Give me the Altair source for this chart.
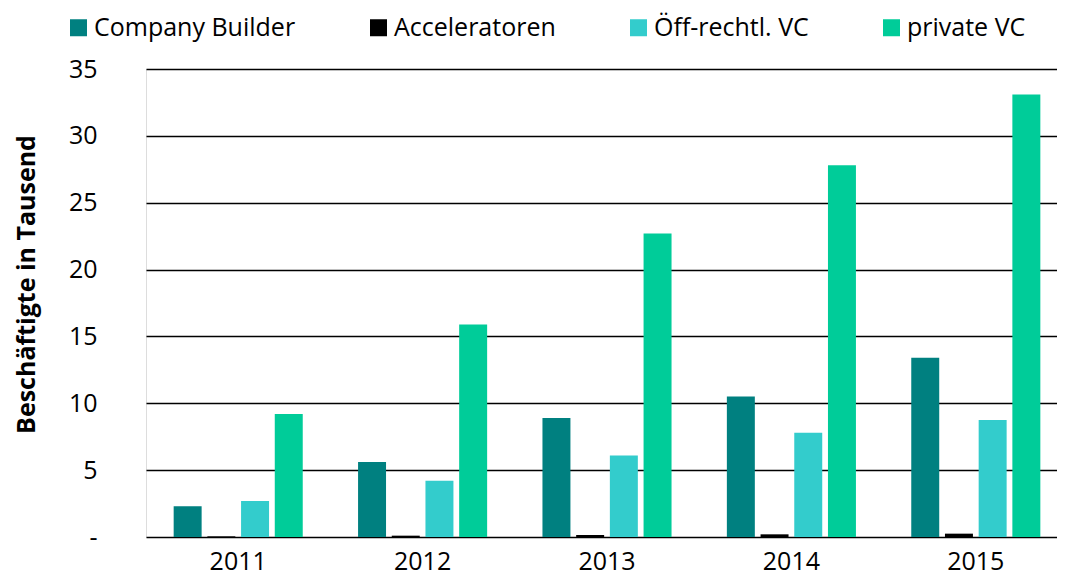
import altair as alt
import pandas as pd

years = ["2011", "2012", "2013", "2014", "2015"]
series = ["Company Builder", "Acceleratoren", "Öff-rechtl. VC", "private VC"]
colors = ["#008080", "#000000", "#33CCCC", "#00CC99"]
company_builder = [2.3, 5.6, 8.9, 10.5, 13.4]
acceleratoren = [0.05, 0.1, 0.15, 0.2, 0.25]
oeff_vc = [2.7, 4.2, 6.1, 7.8, 8.75]
private_vc = [9.2, 15.9, 22.7, 27.8, 33.1]

rows = []
for vals, s in zip([company_builder, acceleratoren, oeff_vc, private_vc], series):
    for y, v in zip(years, vals):
        rows.append({"Jahr": y, "Serie": s, "Wert": v})
df = pd.DataFrame(rows)

FONT = "Open Sans"

chart = alt.Chart(df).mark_bar().encode(
    x=alt.X("Jahr:N", sort=years,
            scale=alt.Scale(paddingInner=0.3, paddingOuter=0.15, range=[0, 922]),
            axis=alt.Axis(title=None, labelAngle=0, labelFontSize=25, labelColor="#000",
                          labelFont=FONT, ticks=False, domain=False, labelPadding=12)),
    xOffset=alt.XOffset("Serie:N", sort=series,
                        scale=alt.Scale(paddingInner=0.17, paddingOuter=0)),
    y=alt.Y("Wert:Q", scale=alt.Scale(domain=[0, 35], nice=False),
            axis=alt.Axis(title="Beschäftigte in Tausend", values=[0, 5, 10, 15, 20, 25, 30, 35],
                          labelExpr="datum.value == 0 ? '-' : datum.label",
                          labelFontSize=25, labelColor="#000", labelFont=FONT,
                          titleFont=FONT, titleFontSize=25, titleFontWeight="bold", titleColor="#000",
                          titlePadding=29, titleY=215, labelPadding=49, ticks=False, domain=False,
                          grid=True, gridColor="#000", gridWidth=1.5, gridOpacity=1)),
    color=alt.Color("Serie:N", sort=series,
                    scale=alt.Scale(domain=series, range=colors),
                    legend=alt.Legend(title=None, orient="none", direction="horizontal",
                                      legendX=-80, legendY=-54, labelLimit=0,
                                      symbolType="square", symbolSize=289, symbolStrokeWidth=0,
                                      labelFontSize=25, labelFont=FONT, labelColor="#000",
                                      columnPadding=70, labelOffset=3)),
).properties(
    width=911, height=468,
    autosize=alt.AutoSizeParams(type="none"),
    padding={"left": 138, "top": 61, "right": 0, "bottom": 40},
).configure_view(stroke=None).configure(background="white")

chart.save("out.html", embed_options={"renderer": "svg", "actions": False})
